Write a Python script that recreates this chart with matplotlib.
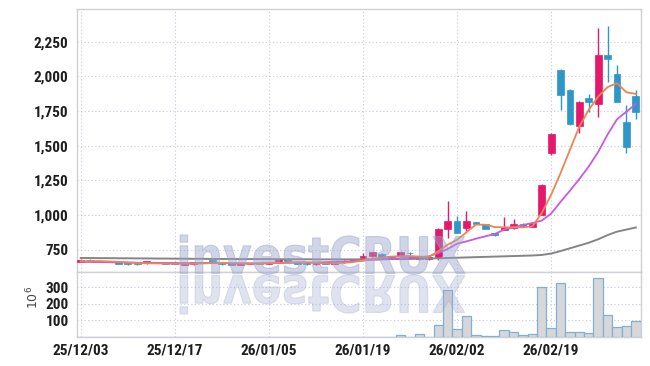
import numpy as np
import matplotlib
matplotlib.use("Agg")
import matplotlib.pyplot as plt
from matplotlib import font_manager
from matplotlib.textpath import TextPath
from matplotlib.patches import PathPatch
from matplotlib.font_manager import FontProperties
from matplotlib.transforms import Affine2D

# ---------------- data ----------------
date_labels = ['25/12/03', '25/12/17', '26/01/05', '26/01/19', '26/02/02', '26/02/19']
date_pos = [0, 10, 20, 30, 40, 50]

opens = [664, 678, 664, 666, 659, 654, 654, 651, 656, 657,
         657, 639, 645, 657, 672, 654, 652, 643, 648, 652,
         649, 657, 686, 660, 657, 645, 662, 646, 658, 670,
         692, 702, 721, 702, 702, 727, 696, 680, 692, 899,
         954, 906, 950, 935, 867, 894, 903, 937, 913, 1002,
         1448, 2046, 1902, 1643, 1842, 1802, 2154, 2017, 1672, 1859]
closes = [678, 671, 669, 664, 649, 644, 644, 669, 654, 646,
          646, 651, 659, 655, 664, 645, 643, 652, 652, 649,
          655, 683, 670, 647, 644, 660, 650, 660, 671, 683,
          705, 731, 697, 683, 731, 723, 680, 695, 901, 954,
          872, 954, 936, 899, 856, 911, 937, 913, 942, 1218,
          1585, 1866, 1657, 1816, 1812, 2154, 2128, 1818, 1487, 1746]
highs = [680, 680, 671, 668, 661, 656, 656, 671, 659, 659,
         659, 654, 661, 661, 674, 656, 654, 654, 654, 654,
         657, 685, 690, 662, 659, 662, 664, 662, 673, 685,
         726, 734, 724, 704, 734, 736, 698, 697, 905, 1098,
         995, 1026, 952, 937, 869, 985, 971, 942, 946, 1222,
         1588, 2053, 1905, 1820, 1873, 2346, 2363, 2082, 1794, 1902]
lows = [662, 669, 662, 662, 647, 642, 642, 649, 652, 644,
        644, 637, 643, 652, 662, 643, 641, 641, 646, 647,
        647, 655, 668, 645, 642, 643, 648, 644, 656, 668,
        690, 700, 695, 680, 700, 712, 676, 677, 678, 836,
        870, 882, 933, 897, 852, 890, 900, 910, 910, 998,
        1436, 1758, 1650, 1590, 1739, 1710, 1962, 1815, 1446, 1691]
volume = [0, 0, 0, 0, 0, 0, 0, 0, 0, 0,
          0, 0, 0, 0, 0, 0, 0, 0, 0, 0,
          0, 2, 0, 0, 0, 0, 0, 0, 0, 2,
          2, 2, 2, 0, 12, 3, 18, 3, 72, 286,
          48, 126, 12, 4, 4, 42, 32, 12, 18, 300,
          54, 324, 30, 30, 24, 354, 132, 60, 66, 96]
ma_short = [668, 668, 668, 665, 662, 658, 654, 652, 651, 650,
            649, 648, 649, 651, 654, 654, 651, 649, 648, 649,
            651, 655, 658, 659, 658, 655, 652, 652, 655, 661,
            672, 685, 693, 700, 703, 704, 700, 698, 738, 786,
            822, 875, 930, 930, 913, 911, 911, 911, 918, 1014,
            1146, 1302, 1470, 1638, 1758, 1854, 1922, 1950, 1885, 1873]
ma_mid = [662, 661, 660, 659, 658, 657, 656, 655, 655, 654,
          654, 653, 653, 653, 653, 653, 652, 652, 652, 652,
          653, 654, 655, 656, 657, 658, 660, 662, 664, 667,
          672, 677, 681, 685, 688, 691, 695, 702, 726, 755,
          793, 810, 829, 846, 863, 894, 911, 928, 942, 960,
          1010, 1095, 1175, 1260, 1350, 1455, 1580, 1690, 1745, 1800]
ma_long = [690, 690, 689, 689, 688, 688, 687, 687, 686, 686,
           685, 685, 684, 684, 683, 683, 683, 682, 682, 682,
           682, 681, 681, 681, 681, 680, 680, 680, 680, 680,
           680, 681, 681, 682, 682, 683, 685, 686, 688, 690,
           692, 694, 696, 698, 700, 702, 704, 706, 708, 712,
           722, 740, 760, 780, 800, 825, 855, 880, 895, 910]
price_ticks = [750, 1000, 1250, 1500, 1750, 2000, 2250]
vol_ticks = [100, 200, 300]

# ---------------- style ----------------
RED = '#e6186b'
BLUE = '#2f97c8'
GRID = '#c6cadf'
SPINE = '#cfcfd4'
TXT = '#1e1e1e'

installed = {f.name for f in font_manager.fontManager.ttflist}
FONT = None
for cand in ['Liberation Sans Narrow', 'DejaVu Sans Condensed', 'Roboto Condensed',
             'Open Sans Condensed', 'Noto Sans Condensed', 'Roboto', 'Inter', 'DejaVu Sans']:
    if cand in installed:
        FONT = cand
        break
if FONT is None:
    FONT = 'DejaVu Sans'
narrow = FONT in ('Liberation Sans Narrow', 'DejaVu Sans Condensed', 'Roboto Condensed',
                  'Open Sans Condensed', 'Noto Sans Condensed')
FS = 11 if narrow else 10

W, H = 650, 366
fig = plt.figure(figsize=(W / 100, H / 100), dpi=100)
L, R = 77, 641
ax = fig.add_axes([L / W, 1 - 272 / H, (R - L) / W, (272 - 9) / H])
axv = fig.add_axes([L / W, 1 - 337 / H, (R - L) / W, (337 - 272) / H], sharex=ax)

x = np.arange(len(opens))
o = np.array(opens, float)
c = np.array(closes, float)
cols = [RED if cc >= oo else BLUE for oo, cc in zip(o, c)]

ax.vlines(x, lows, highs, colors=cols, lw=1.0, zorder=3)
body = np.maximum(np.abs(c - o), 5)
ax.bar(x, body, bottom=np.minimum(o, c), width=0.72, color=cols,
       edgecolor=cols, lw=0.5, zorder=4)

ax.plot(x, ma_long, color='#858585', lw=1.4, zorder=5)
ax.plot(x, ma_mid, color='#c65ae8', lw=1.3, zorder=6)
ax.plot(x, ma_short, color='#ef8352', lw=1.3, zorder=7)

axv.bar(x, volume, width=1.0, color='#d7d7d9', edgecolor='#7fb1d8', lw=0.9, zorder=3)

ax.set_xlim(-0.4, 59.55)
ax.set_ylim(589, 2485)
axv.set_ylim(0, 392)

ax.set_yticks(price_ticks)
ax.set_yticklabels([f'{v:,}' for v in price_ticks])
axv.set_yticks(vol_ticks)
axv.set_yticklabels([str(v) for v in vol_ticks])
axv.set_xticks(date_pos)
axv.set_xticklabels(date_labels)

for a in (ax, axv):
    a.grid(True, ls=(0, (1, 2.2)), color=GRID, lw=0.8, zorder=0)
    a.set_axisbelow(True)
    a.tick_params(length=0, pad=6, labelcolor=TXT)
    for s in a.spines.values():
        s.set_color(SPINE)
        s.set_linewidth(1.0)
    for lab in a.get_yticklabels() + a.get_xticklabels():
        lab.set_family([FONT, 'DejaVu Sans'])
        lab.set_fontweight('bold')
        lab.set_fontsize(FS)
ax.tick_params(labelbottom=False)
axv.tick_params(axis='x', pad=5)

fig.text(33 / W, 1 - 297 / H, r'$10^6$', rotation=90, ha='center', va='center',
         fontsize=9, color='#444444', family='DejaVu Serif')

# ---------------- watermark ----------------
tp = TextPath((0, 0), 'investCRUX', size=100,
              prop=FontProperties(family='DejaVu Sans', weight='bold'))
bb = tp.get_extents()
x0, x1 = 180, 465
base, top = 273.5, 235
sx = (x1 - x0) / bb.width
sy = (base - top) / bb.y1
to_fig = Affine2D().scale(1 / W, 1 / H) + fig.transFigure
t_up = Affine2D().translate(-bb.x0, 0).scale(sx, sy).translate(x0, H - base)
t_dn = Affine2D().translate(-bb.x0, 0).scale(sx, -sy).translate(x0, H - base - 2)
fig.patches.append(PathPatch(t_up.transform_path(tp), transform=to_fig,
                             facecolor='#9aa3cc', edgecolor='#9aa3cc', lw=0.8,
                             alpha=0.45, zorder=10))
fig.patches.append(PathPatch(t_dn.transform_path(tp), transform=to_fig,
                             facecolor='#9aa3cc', edgecolor='#9aa3cc', lw=0.8,
                             alpha=0.3, zorder=10))

fig.savefig('out.png', dpi=100)
